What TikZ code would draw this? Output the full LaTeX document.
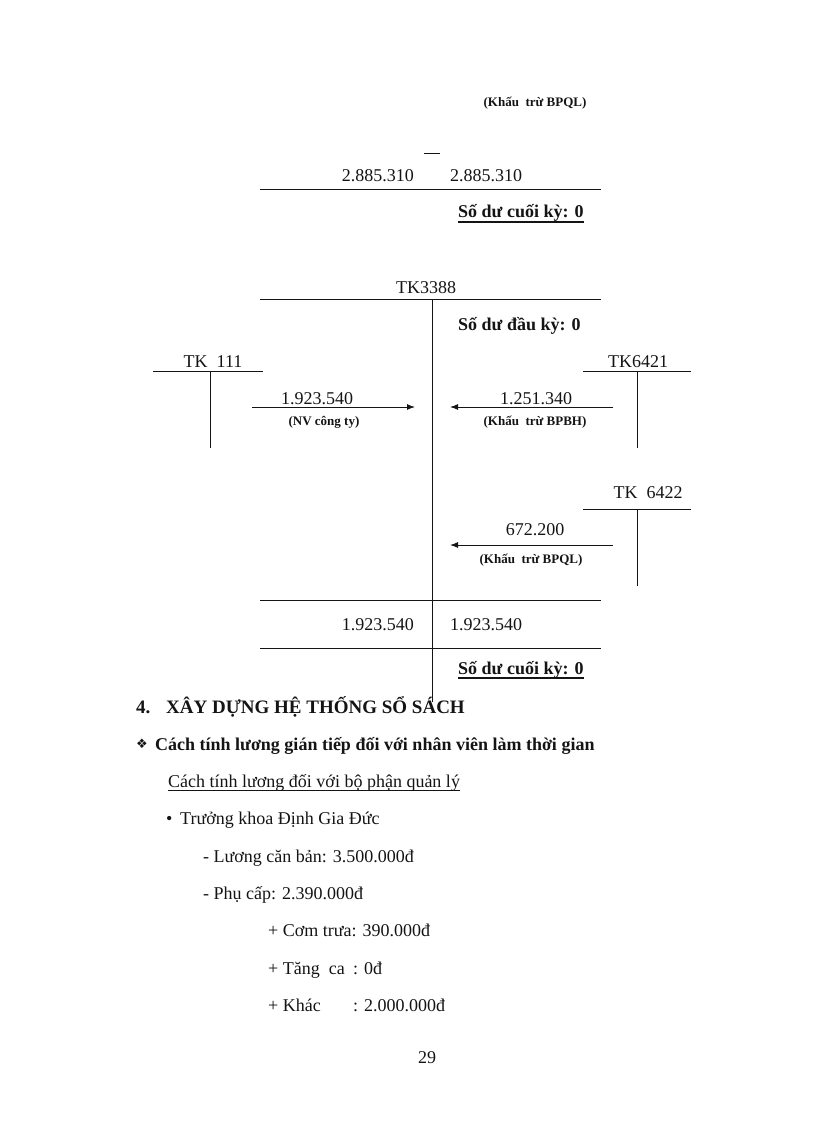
\documentclass[tikz,border=0pt]{standalone}
\usepackage{fontspec}
\setmainfont{Liberation Serif}
\newfontfamily\symfont{DejaVu Sans}
\usetikzlibrary{positioning,arrows.meta}
\definecolor{tink}{RGB}{20,20,20}
\tikzset{
  txt/.style={inner sep=0pt, anchor=base west, text=tink, font=\fontsize{18}{22}\selectfont},
  amt/.style={txt},
  bal/.style={txt, font=\fontsize{18}{22}\selectfont\bfseries},
  acct/.style={txt, anchor=base},
  note/.style={txt, anchor=base, font=\fontsize{13}{16}\selectfont\bfseries},
  tline/.style={line width=1pt, tink},
  flow/.style={-{Latex[length=8pt,width=6pt]}, line width=1pt, tink},
  uline/.style={line width=1.6pt, tink},
  thinuline/.style={line width=0.9pt, tink},
  head/.style={txt, font=\fontsize{19}{23}\selectfont\bfseries},
  subhead/.style={txt, font=\fontsize{18}{22}\selectfont\bfseries},
  body/.style={txt}
}

\begin{document}
\begin{tikzpicture}[x=1pt, y=-1pt]
\useasboundingbox (0,0) rectangle (816,1123);
\node[note] (qltop) at (535,107) {(Khấu\ \ trừ BPQL)};
\draw[tline] (424,154) -- (440,154);
\node[amt, anchor=base east] (debtop) at (414,182) {2.885.310};
\node[amt] (credtop) at (450,182) {2.885.310};
\draw[tline] (260,190) -- (601,190);
\node[bal] (cktop) at (458,218) {Số dư cuối kỳ: 0};
\draw[uline] ([yshift=-4pt]cktop.base west) -- ([yshift=-4pt]cktop.base east);

\node[acct] (tk3388) at (426,293) {TK3388};
\draw[tline] (260,299) -- (601,299);
\draw[tline] (432,299) -- (432,702);
\node[bal] (dk) at (458,330) {Số dư đầu kỳ: 0};

\node[acct] (tk111) at (213,367) {TK\ \ 111};
\draw[tline] (153,371) -- (263,371);
\draw[tline] (210,371) -- (210,448);
\node[acct] (tk6421) at (638,367) {TK6421};
\draw[tline] (583,371) -- (691,371);
\draw[tline] (637,371) -- (637,448);
\node[acct] (tk6422) at (648,498) {TK\ \ 6422};
\draw[tline] (583,509) -- (691,509);
\draw[tline] (637,509) -- (637,586);

\coordinate (s111) at (252,407);
\coordinate (e111) at (415,407);
\draw[flow] (s111) -- (e111);
\node[acct] (v111) at (317,404) {1.923.540};
\node[note] (n111) at (324,425) {(NV công ty)};

\coordinate (s6421) at (613,407);
\coordinate (e6421) at (450,407);
\draw[flow] (s6421) -- (e6421);
\node[acct] (v6421) at (536,404) {1.251.340};
\node[note] (n6421) at (535,425) {(Khấu\ \ trừ BPBH)};

\coordinate (s6422) at (613,545);
\coordinate (e6422) at (450,545);
\draw[flow] (s6422) -- (e6422);
\node[acct] (v6422) at (535,535) {672.200};
\node[note] (n6422) at (531,563) {(Khấu\ \ trừ BPQL)};

\draw[tline] (260,600) -- (601,600);
\node[amt, anchor=base east] (debsum) at (414,630) {1.923.540};
\node[amt] (credsum) at (450,630) {1.923.540};
\draw[tline] (260,648) -- (601,648);
\node[bal] (ck) at (458,674) {Số dư cuối kỳ: 0};
\draw[uline] ([yshift=-4pt]ck.base west) -- ([yshift=-4pt]ck.base east);

\node[head] (secno) at (136,713) {4.};
\node[head] (sec) at (166,713) {XÂY DỰNG HỆ THỐNG SỔ SÁCH};
\node[txt, font=\symfont\fontsize{13}{16}\selectfont] (diam) at (136,748) {❖};
\node[subhead] (way) at (155,750) {Cách tính lương gián tiếp đối với nhân viên làm thời gian};
\node[body] (mgmt) at (168,787) {Cách tính lương đối với bộ phận quản lý};
\draw[thinuline] ([yshift=-3pt]mgmt.base west) -- ([yshift=-3pt]mgmt.base east);
\node[body] (dot) at (166,824) {•};
\node[body] (head1) at (180,824) {Trưởng khoa Định Gia Đức};
\node[body] (base1) at (203,862) {- Lương căn bản: 3.500.000đ};
\node[body] (allow) at (203,899) {- Phụ cấp: 2.390.000đ};
\node[body] (lunch) at (268,936) {+ Cơm trưa: 390.000đ};
\node[body] (ot) at (268,974) {+ Tăng\ \ ca};
\node[body] (otv) at (353,974) {: 0đ};
\node[body] (oth) at (268,1011) {+ Khác};
\node[body] (othv) at (353,1011) {: 2.000.000đ};
\node[acct] (pg) at (427,1063) {29};
\end{tikzpicture}
\end{document}
